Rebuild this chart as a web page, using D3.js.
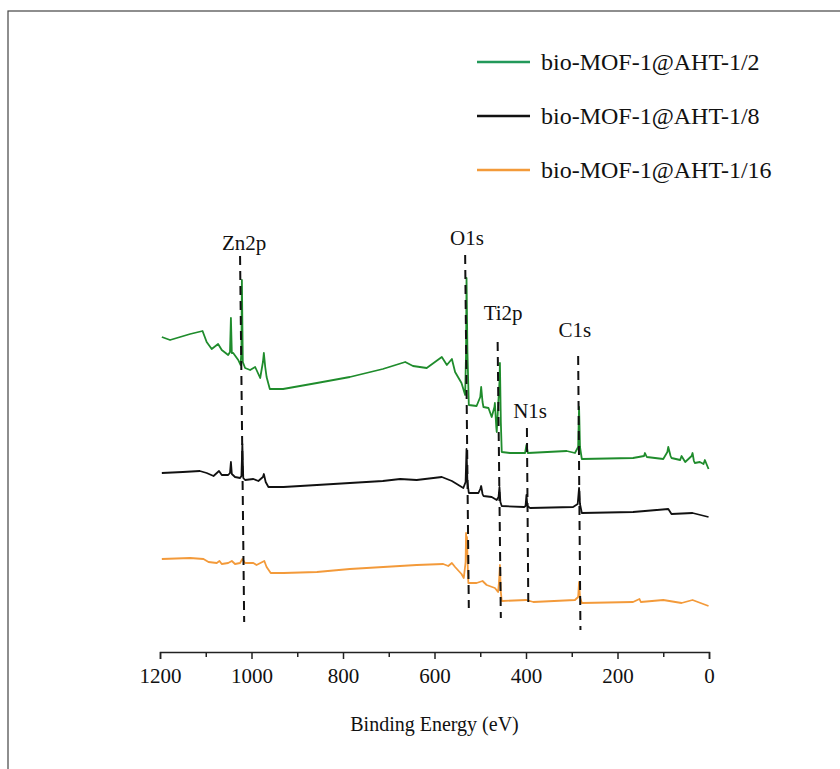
<!DOCTYPE html>
<html>
<head>
<meta charset="utf-8">
<script src="https://cdn.jsdelivr.net/npm/d3@7"></script>
<style>
  body { margin: 0; background: #fff; }
  .root text { font-family: "Liberation Serif", "Times New Roman", serif; fill: #111; }
</style>
</head>
<body>
<div class="root"></div>
<script>
// XPS survey spectra, [binding energy (eV), intensity (a.u.)]
const seriesNames = ["bio-MOF-1@AHT-1/2", "bio-MOF-1@AHT-1/8", "bio-MOF-1@AHT-1/16"];

const spec12 = [
  [1196, 315], [1178, 312], [1134, 318], [1107, 321], [1098, 310], [1087, 303],
  [1073, 308], [1065, 302], [1051, 297], [1047, 300], [1045, 334], [1043, 299],
  [1040, 299], [1029, 292], [1024, 287], [1022, 300], [1021, 372], [1019, 290],
  [1014, 284], [1003, 282], [992, 285], [981, 274], [975, 290], [973, 299],
  [970, 285], [967, 275], [960, 263], [931, 263], [857, 269], [785, 275],
  [713, 283], [664, 290], [647, 286], [617, 284], [584, 295], [573, 287],
  [562, 293], [555, 280], [541, 269], [533, 257], [531, 300], [530, 374],
  [528, 300], [525, 247], [508, 246], [500, 255], [498, 265], [495, 250],
  [493, 245], [482, 244], [475, 235], [469, 245], [468, 249], [465, 225],
  [464, 220], [458, 270], [457, 289], [455, 230], [453, 200], [435, 199],
  [402, 199], [399, 207], [396, 199], [311, 201], [293, 199], [286, 205],
  [284, 245], [282, 205], [278, 193], [166, 194], [142, 196], [140, 199],
  [136, 195], [100, 193], [91, 200], [89, 205], [84, 196], [82, 194],
  [63, 192], [60, 196], [52, 190], [38, 196], [36, 199], [33, 191],
  [31, 189], [20, 190], [12, 188], [9, 192], [1, 183]
];

const spec18 = [
  [1196, 179], [1150, 180], [1113, 181], [1098, 179], [1083, 176], [1071, 181],
  [1065, 177], [1051, 177], [1047, 179], [1045, 190], [1043, 178], [1036, 175],
  [1025, 174], [1022, 176], [1020, 208], [1018, 174], [1014, 172], [996, 173],
  [985, 171], [975, 175], [973, 178], [969, 170], [963, 165], [930, 165],
  [857, 167], [785, 169], [713, 171], [675, 173], [639, 172], [584, 175],
  [562, 171], [537, 164], [532, 170], [530, 203], [528, 170], [525, 159],
  [504, 159], [500, 163], [498, 166], [495, 158], [493, 156], [475, 155],
  [464, 152], [460, 155], [458, 165], [456, 150], [453, 146], [404, 145],
  [401, 146], [399, 157], [397, 146], [391, 144], [297, 145], [287, 148],
  [284, 164], [282, 148], [278, 139], [166, 140], [140, 141], [89, 143],
  [82, 138], [36, 139], [1, 135]
];

const spec116 = [
  [1196, 93], [1134, 94], [1105, 93], [1094, 90], [1076, 89], [1070, 91],
  [1065, 88], [1051, 89], [1043, 91], [1036, 88], [1025, 89], [1020, 93],
  [1014, 89], [996, 89], [989, 87], [972, 91], [967, 85], [958, 79],
  [930, 79], [857, 80], [785, 83], [712, 85], [639, 87], [581, 88],
  [570, 86], [562, 89], [555, 85], [541, 78], [536, 74], [532, 90],
  [531, 119], [530, 100], [529, 115], [527, 80], [526, 69], [508, 69],
  [495, 71], [486, 67], [468, 64], [461, 60], [459, 70], [457, 87],
  [455, 60], [453, 51], [399, 52], [384, 50], [293, 52], [286, 55],
  [284, 70], [282, 55], [278, 49], [166, 50], [152, 53], [149, 50],
  [100, 52], [60, 49], [36, 52], [1, 46]
];

const seriesData = [spec12, spec18, spec116];
const seriesColors = ["#1f8c2c", "#111111", "#f39a3a"];

// dashed peak markers: [label, top energy, top intensity, bottom energy, bottom intensity]
const peakLines = [
  ["Zn2p", 1025, 396, 1016, 30],
  ["O1s", 533, 397, 525, 44],
  ["Ti2p", 462, 310, 455, 34],
  ["N1s", 398, 224, 395, 50],
  ["C1s", 286, 296, 281, 22]
];
// peak label anchors: [label, energy, intensity]
const peakLabels = [
  ["Zn2p", 1016, 402],
  ["O1s", 529, 407],
  ["Ti2p", 450, 332],
  ["N1s", 391, 234],
  ["C1s", 293, 315]
];

const xTicks = [1200, 1000, 800, 600, 400, 200, 0];
const xMinorTicks = [1100, 900, 700, 500, 300, 100];

const w = 840;
const h = 769;
const svg = d3.select(".root")
              .append("svg")
              .attr("width", w)
              .attr("height", h);

// outer frame
svg.append("rect")
   .attr("x", 8)
   .attr("y", 11)
   .attr("width", w + 20)
   .attr("height", h + 20)
   .attr("fill", "none")
   .attr("stroke", "#444")
   .attr("stroke-width", 1.2);

const xScale = d3.scaleLinear()
                 .domain([1200, 0])
                 .range([160, 709]);

const yScale = d3.scaleLinear()
                 .domain([0, 400])
                 .range([652, 252]);

const line = d3.line()
               .x((d) => xScale(d[0]))
               .y((d) => yScale(d[1]));

// spectra
svg.selectAll(".spectrum")
   .data(seriesData)
   .enter()
   .append("path")
   .attr("class", "spectrum")
   .attr("d", (d) => line(d))
   .attr("fill", "none")
   .attr("stroke", (d, i) => seriesColors[i])
   .attr("stroke-width", 1.8)
   .attr("stroke-linejoin", "round");

// dashed peak lines
svg.selectAll(".peak")
   .data(peakLines)
   .enter()
   .append("line")
   .attr("class", "peak")
   .attr("x1", (d) => xScale(d[1]))
   .attr("y1", (d) => yScale(d[2]))
   .attr("x2", (d) => xScale(d[3]))
   .attr("y2", (d) => yScale(d[4]))
   .attr("stroke", "#111")
   .attr("stroke-width", 2)
   .attr("stroke-dasharray", "9,6");

svg.selectAll(".peak-label")
   .data(peakLabels)
   .enter()
   .append("text")
   .attr("class", "peak-label")
   .attr("x", (d) => xScale(d[1]))
   .attr("y", (d) => yScale(d[2]))
   .attr("text-anchor", "middle")
   .style("font-size", "21px")
   .text((d) => d[0]);

// x axis
const xAxis = d3.axisBottom(xScale)
                .tickValues(xTicks)
                .tickSize(7)
                .tickPadding(9)
                .tickFormat(d3.format("d"));

const gx = svg.append("g")
   .attr("class", "axis")
   .attr("transform", "translate(0," + 652 + ")")
   .call(xAxis);

gx.select(".domain").attr("stroke", "#222").attr("stroke-width", 1.5);
gx.selectAll(".tick line").attr("stroke", "#222").attr("stroke-width", 1.5);
gx.selectAll(".tick text")
  .style("font-family", "'Liberation Serif', 'Times New Roman', serif")
  .style("font-size", "21px")
  .attr("fill", "#111");

svg.append("g")
   .attr("transform", "translate(0," + 652 + ")")
   .call(d3.axisBottom(xScale).tickValues(xMinorTicks).tickSize(5).tickFormat(""))
   .call((g) => g.select(".domain").remove())
   .selectAll(".tick line").attr("stroke", "#222").attr("stroke-width", 1.5);

svg.append("text")
   .attr("x", (160 + 709) / 2)
   .attr("y", 731)
   .attr("text-anchor", "middle")
   .style("font-size", "20px")
   .text("Binding Energy (eV)");

// legend
const legend = svg.selectAll(".legend")
   .data(seriesNames)
   .enter()
   .append("g")
   .attr("class", "legend")
   .attr("transform", (d, i) => "translate(477," + (62 + i * 54) + ")");

legend.append("line")
      .attr("x1", 0)
      .attr("x2", 53)
      .attr("stroke", (d, i) => i === 0 ? "#22995a" : seriesColors[i])
      .attr("stroke-width", 2.5);

legend.append("text")
      .attr("x", 64)
      .attr("y", 8)
      .style("font-size", "24px")
      .text((d) => d);
</script>
</body>
</html>
